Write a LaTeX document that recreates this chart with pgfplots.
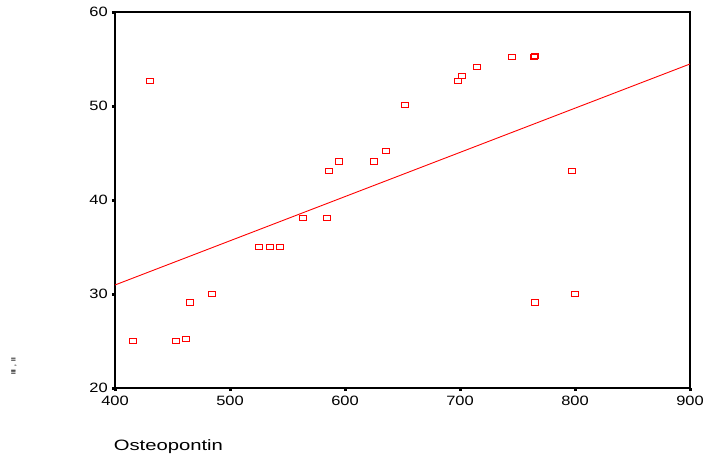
\documentclass[border=0pt]{standalone}
\usepackage{pgfplots}
\pgfplotsset{compat=1.18}
\usepackage{fontspec}
\setmainfont{Liberation Sans}
\begin{document}
\begin{tikzpicture}
\path[use as bounding box] (-115pt,-71pt) rectangle (588pt,388pt);
\begin{axis}[
  at={(0pt,0pt)}, anchor=south west,
  scale only axis, width=575pt, height=376pt,
  xmin=400, xmax=900, ymin=20, ymax=60,
  xtick={400,500,...,900}, ytick={20,30,...,60},
  axis line style={line width=1.3pt, black},
  tick align=outside,
  major tick length=3pt,
  every tick/.style={black, line width=3pt},
  xtick pos=bottom, ytick pos=left,
  /pgf/number format/assume math mode=true,
  ticklabel style={font=\fontsize{13.5}{13.5}\selectfont, xscale=1.22},
  xticklabel style={yshift=-2pt},
  clip=false,
]
\addplot[only marks, red, mark=square, mark size=3.5pt,
  mark options={line width=0.9pt, yscale=0.72}] coordinates {
(416,25.0) (430,52.7) (453,25.0) (462,25.2) (465,29.1) (484,30.0)
(525,35.0) (535,35.0) (543,35.0) (563,38.1) (584,38.1) (586,43.1)
(595,44.1) (625,44.1) (636,45.2) (652,50.1) (698,52.7) (702,53.2)
(715,54.2) (745,55.2) (764,55.2) (765,55.3) (765,29.1) (797,43.1)
(800,30.0)
};
\addplot[red, line width=0.9pt] coordinates {(400,30.96) (900,54.47)};
\end{axis}
\node[anchor=base west, xscale=1.35, font=\fontsize{15}{15}\selectfont] at (-6pt,-62.5pt) {Osteopontin};
\node[rotate=90, font=\fontsize{6}{6}\selectfont\bfseries] at (-101pt,22pt) {lll \ , \ ll};
\end{tikzpicture}
\end{document}
